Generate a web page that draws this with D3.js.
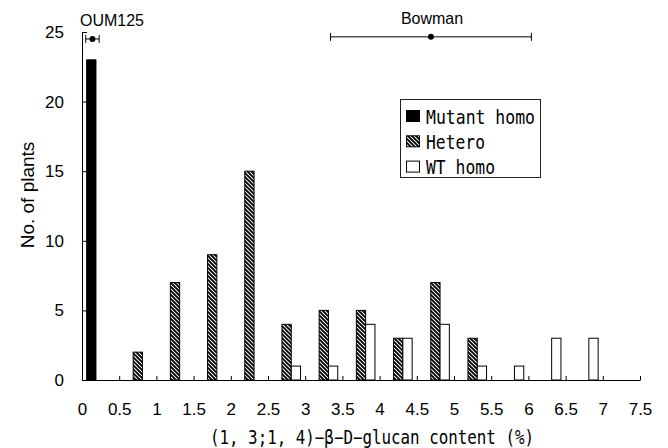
<html>
<script src='https://d3js.org/d3.v7.min.js'></script>
<body style="margin:0; background:#fff;">
<svg width=668 height=448></svg>
<script>

// bins of (1,3;1,4)-beta-D-glucan content, each 0.5 % wide
var binStarts = [0, 0.5, 1, 1.5, 2, 2.5, 3, 3.5, 4, 4.5, 5, 5.5, 6, 6.5, 7];
var mutantHomo = [23, 0, 0, 0, 0, 0, 0, 0, 0, 0, 0, 0, 0, 0, 0];
var hetero     = [0, 2, 7, 9, 15, 4, 5, 5, 3, 7, 3, 0, 0, 0, 0];
var wtHomo     = [0, 0, 0, 0, 0, 1, 1, 4, 3, 4, 1, 1, 3, 3, 0];

var seriesNames = ["Mutant homo", "Hetero", "WT homo"];
var xTicks = [0, 0.5, 1, 1.5, 2, 2.5, 3, 3.5, 4, 4.5, 5, 5.5, 6, 6.5, 7, 7.5];
var yTicks = [0, 5, 10, 15, 20, 25];

// parent lines shown as mean +- sd above the plot
var parentNames = ["OUM125", "Bowman"];
var parentMeans = [0.14, 4.69];
var parentSd = [0.09, 1.35];
var parentLevel = [24.5, 24.65];

var svg = d3.select('svg');

var x = d3.scaleLinear().domain([0, 7.5]).range([82, 640]);
var y = d3.scaleLinear().domain([0, 25]).range([380, 32]);
var binW = x(0.5) - x(0);
var sub = d3.scaleBand().domain(seriesNames).range([0, binW]).paddingInner(0).paddingOuter(0.5);

// hatch for heterozygotes
var defs = svg.append("defs");
defs.append("pattern")
    .attr("id", "hatch")
    .attr("patternUnits", "userSpaceOnUse")
    .attr("width", 4).attr("height", 4)
  .append("path")
    .attr("d", "M-1,-1L5,5M-1,3L1,5M3,-1L5,1")
    .attr("stroke", "black")
    .attr("stroke-width", 1.9);

var fills = ["black", "url(#hatch)", "white"];
var series = [mutantHomo, hetero, wtHomo];

var rows = [];
binStarts.forEach(function(b, i) {
    series.forEach(function(s, j) {
        if (s[i] > 0) rows.push({bin: b, name: seriesNames[j], value: s[i], fill: fills[j]});
    });
});

svg.append("g").selectAll("rect")
    .data(rows)
    .join("rect")
    .attr("x", d => x(d.bin) + sub(d.name))
    .attr("y", d => y(d.value))
    .attr("width", sub.bandwidth())
    .attr("height", d => y(0) - y(d.value))
    .attr("fill", d => d.fill)
    .attr("stroke", "black")
    .attr("stroke-width", 1);

// axes
var xAxis = svg.append('g').attr("transform", "translate(0,380)")
    .call(d3.axisBottom(x).tickValues(xTicks).tickFormat(d => String(d))
        .tickSizeInner(-4).tickSizeOuter(0).tickPadding(23));
var yAxis = svg.append('g').attr("transform", "translate(82,0)")
    .call(d3.axisLeft(y).tickValues(yTicks).tickFormat(d => String(d))
        .tickSizeInner(-5).tickSizeOuter(0).tickPadding(18));
[xAxis, yAxis].forEach(function(a) {
    a.selectAll("text").attr("font-family", "Liberation Sans, Arial, sans-serif").attr("font-size", 17).attr("fill", "black");
    a.selectAll("line, path").attr("stroke", "black");
});

// parent error bars
parentNames.forEach(function(n, i) {
    var g = svg.append("g");
    var yy = y(parentLevel[i]);
    var lo = x(parentMeans[i] - parentSd[i]), hi = x(parentMeans[i] + parentSd[i]);
    g.append("line").attr("x1", lo).attr("x2", hi).attr("y1", yy).attr("y2", yy).attr("stroke", "black");
    [lo, hi].forEach(function(cx) {
        g.append("line").attr("x1", cx).attr("x2", cx).attr("y1", yy - 4).attr("y2", yy + 4).attr("stroke", "black");
    });
    g.append("circle").attr("cx", x(parentMeans[i])).attr("cy", yy).attr("r", 3).attr("fill", "black");
});
svg.append("text").attr("x", 112).attr("y", 26).attr("text-anchor", "middle")
    .attr("font-family", "Liberation Sans, Arial, sans-serif").attr("font-size", 16).text(parentNames[0]);
svg.append("text").attr("x", 432).attr("y", 24).attr("text-anchor", "middle")
    .attr("font-family", "Liberation Sans, Arial, sans-serif").attr("font-size", 16).text(parentNames[1]);

// legend
var legend = svg.append("g");
legend.append("rect").attr("x", 400.5).attr("y", 99.5).attr("width", 140).attr("height", 78)
    .attr("fill", "white").attr("stroke", "#222");
seriesNames.forEach(function(n, i) {
    var cy = 116 + i * 25.3;
    legend.append("rect").attr("x", 406.5).attr("y", cy - 5.5).attr("width", 13).attr("height", 11)
        .attr("fill", fills[i]).attr("stroke", "black");
    legend.append("text").attr("x", 426).attr("y", cy + 7.5)
        .attr("font-family", "DejaVu Sans Mono, monospace").attr("font-size", 19)
        .attr("textLength", n.length * 10 - 1).attr("lengthAdjust", "spacingAndGlyphs")
        .text(n);
});

// axis titles
svg.append("text").attr("x", 210).attr("y", 444)
    .attr("font-family", "DejaVu Sans Mono, monospace").attr("font-size", 19)
    .attr("textLength", 324).attr("lengthAdjust", "spacingAndGlyphs")
    .text("(1, 3;1, 4)\u2212\u03b2\u2212D\u2212glucan content (%)");

svg.append("text").attr("transform", "translate(34,195) rotate(-90)")
    .attr("text-anchor", "middle")
    .attr("font-family", "Liberation Sans, Arial, sans-serif").attr("font-size", 19)
    .text("No. of plants");

</script>
</body>
</html>
